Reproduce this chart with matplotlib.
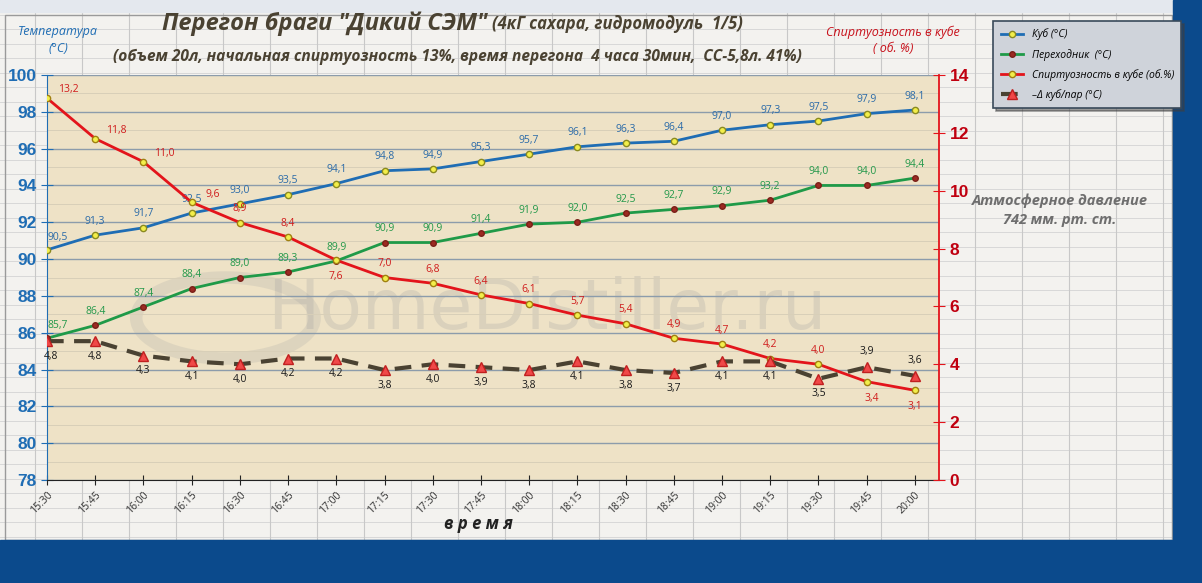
import matplotlib.pyplot as plt
from matplotlib.patches import Rectangle, Circle

# data
times = ["15:30", "15:45", "16:00", "16:15", "16:30", "16:45", "17:00", "17:15", "17:30", "17:45",
         "18:00", "18:15", "18:30", "18:45", "19:00", "19:15", "19:30", "19:45", "20:00"]
kub = [90.5, 91.3, 91.7, 92.5, 93.0, 93.5, 94.1, 94.8, 94.9, 95.3,
       95.7, 96.1, 96.3, 96.4, 97.0, 97.3, 97.5, 97.9, 98.1]
perehodnik = [85.7, 86.4, 87.4, 88.4, 89.0, 89.3, 89.9, 90.9, 90.9, 91.4,
              91.9, 92.0, 92.5, 92.7, 92.9, 93.2, 94.0, 94.0, 94.4]
spirt = [13.2, 11.8, 11.0, 9.6, 8.9, 8.4, 7.6, 7.0, 6.8, 6.4,
         6.1, 5.7, 5.4, 4.9, 4.7, 4.2, 4.0, 3.4, 3.1]
delta = [4.8, 4.8, 4.3, 4.1, 4.0, 4.2, 4.2, 3.8, 4.0, 3.9,
         3.8, 4.1, 3.8, 3.7, 4.1, 4.1, 3.5, 3.9, 3.6]

FONT = ["Open Sans", "DejaVu Sans"]
plt.rcParams["font.family"] = FONT

BLUE = "#1f6db4"
GREEN = "#1f9a48"
RED = "#e3141b"
DARK = "#4a4232"

fig = plt.figure(figsize=(12.02, 5.83), dpi=100)
fig.patch.set_facecolor("#f3f2ef")

# excel-like background
bg = fig.add_axes([0, 0, 1, 1], zorder=-5)
bg.set_xlim(0, 1202)
bg.set_ylim(583, 0)
bg.axis("off")
y = 0
while y < 583:
    bg.axhline(y, color="#d8d8d8", lw=0.7, zorder=1)
    y += 14.5
x = 35
while x < 1202:
    bg.axvline(x, color="#c8c8c8", lw=0.8, zorder=1)
    x += 47
bg.add_patch(Rectangle((5, 15), 1167, 525, fill=False, ec="#9a9a9a", lw=1.0, zorder=3))
bg.add_patch(Rectangle((0, 540), 1202, 43, color="#0b4a8c", zorder=5))
bg.add_patch(Rectangle((1173, 0), 29, 583, color="#0b4a8c", zorder=5))
bg.add_patch(Rectangle((0, 0), 1173, 12, color="#e4e8ee", zorder=4))

ax = fig.add_axes([47 / 1202, 1 - 480 / 583, 892 / 1202, 405 / 583])
ax2 = ax.twinx()
ax.set_facecolor("#eee2c6")

xs = list(range(len(times)))

# watermark
ax.text(0.56, 0.42, "HomeDistiller.ru", transform=ax.transAxes, fontsize=50, color="#8a9098",
        alpha=0.2, ha="center", va="center", family=["DejaVu Sans"], zorder=0)
ax.add_patch(Circle((0.2, 0.4), 0.1, transform=ax.transAxes, fill=False, ec="#8a9098",
                    lw=9, alpha=0.16, zorder=0))

ax.plot(xs, kub, color=BLUE, lw=2, marker="o", ms=4.5, mfc="#f2ee4a", mec="#8a8a20", zorder=4,
        label="Куб (°C)")
ax.plot(xs, perehodnik, color=GREEN, lw=2, marker="o", ms=4, mfc="#9c2a22", mec="#7a2018", zorder=4,
        label="Переходник  (°C)")

ax2.plot(xs, spirt, color=RED, lw=2, marker="o", ms=4.5, mfc="#f2ee4a", mec="#a08010", zorder=4,
         label="Спиртуозность в кубе (об.%)")
ax2.plot(xs, delta, color=DARK, lw=3, ls=(0, (4, 2.5)), marker="^", ms=7, mfc="#f04848",
         mec="#c02020", zorder=4, label="–Δ куб/пар (°C)")

# data labels
for i in xs:
    off = (8, 5) if i == 0 else (0, 6)
    lbl = f"{kub[i]:.1f}".replace(".", ",")
    ax.annotate(lbl, (i, kub[i]), xytext=off, textcoords="offset points", ha="center",
                va="bottom", fontsize=7.5, color="#2a6aa8")
    lbl = f"{perehodnik[i]:.1f}".replace(".", ",")
    ax.annotate(lbl, (i, perehodnik[i]), xytext=off, textcoords="offset points", ha="center",
                va="bottom", fontsize=7.5, color="#23984a")
    lbl = f"{spirt[i]:.1f}".replace(".", ",")
    if i < 4:
        off, va = (15, 2), "bottom"
    elif i in (6, 17, 18):
        off, va = (4 if i == 17 else 0, -8), "top"
    else:
        off, va = (0, 6), "bottom"
    ax2.annotate(lbl, (i, spirt[i]), xytext=off, textcoords="offset points", ha="center",
                 va=va, fontsize=7.5, color="#d01c1c")
    lbl = f"{delta[i]:.1f}".replace(".", ",")
    if i >= 17:
        off, va = (0, 7), "bottom"
    else:
        off, va = (3 if i == 0 else 0, -7), "top"
    ax2.annotate(lbl, (i, delta[i]), xytext=off, textcoords="offset points", ha="center",
                 va=va, fontsize=7.5, color="#1a1a1a")

ax.set_xlim(0, 18.5)
ax.set_ylim(78, 100)
ax2.set_ylim(0, 14)
ax.set_yticks(range(78, 101, 2))
ax2.set_yticks(range(0, 15, 2))
ax.set_yticks([78 + k for k in range(1, 22, 2)], minor=True)
ax.grid(axis="y", which="major", color="#8c9cab", lw=1)
ax.grid(axis="y", which="minor", color="#d8cfb8", lw=0.7)
ax.tick_params(axis="y", which="minor", length=0)
ax.set_axisbelow(True)

ax.set_xticks(xs)
ax.set_xticklabels(times, rotation=45, ha="right", rotation_mode="anchor", fontsize=7.5, color="#333333")
ax.tick_params(axis="x", direction="inout", length=7, color="#222222")
ax.tick_params(axis="y", direction="inout", length=8, color=BLUE, labelsize=12.5, labelcolor=BLUE)
ax2.tick_params(axis="y", direction="inout", length=8, color=RED, labelsize=12.5, labelcolor="#c00010")
for t in ax.get_yticklabels() + ax2.get_yticklabels():
    t.set_fontweight("bold")
    t.set_family(["Liberation Sans", "DejaVu Sans"])

ax.spines["top"].set_visible(False)
ax2.spines["top"].set_visible(False)
ax.spines["right"].set_visible(False)
ax.spines["left"].set_color(BLUE)
ax2.spines["left"].set_visible(False)
ax2.spines["bottom"].set_visible(False)
ax2.spines["right"].set_color(RED)
ax2.spines["right"].set_linewidth(1.3)
ax.spines["bottom"].set_color("#222222")

# titles
fig.text(162 / 1202, 1 - 24 / 583, 'Перегон браги "Дикий СЭМ"', fontsize=17, fontweight="bold",
         style="italic", color=DARK, va="center")
fig.text(492 / 1202, 1 - 24 / 583, "(4кГ сахара, гидромодуль  1/5)", fontsize=12,
         fontweight="bold", style="italic", color=DARK, va="center")
fig.text(113 / 1202, 1 - 57 / 583,
         "(объем 20л, начальная спиртуозность 13%, время перегона  4 часа 30мин,  СС-5,8л. 41%)",
         fontsize=11.2, fontweight="bold", style="italic", color=DARK, va="center")
fig.text(58 / 1202, 1 - 40 / 583, "Температура\n(°C)", fontsize=9, style="italic", color=BLUE,
         ha="center", va="center", linespacing=1.3)
fig.text(893 / 1202, 1 - 40 / 583, "Спиртуозность в кубе\n( об. %)", fontsize=9, style="italic",
         color="#c8101a", ha="center", va="center", linespacing=1.3)
fig.text(478 / 1202, 1 - 524 / 583, "в р е м я", fontsize=12, fontweight="bold", style="italic",
         color="#222222", ha="center", va="center")
fig.text(1060 / 1202, 1 - 210 / 583, "Атмосферное давление\n742 мм. рт. ст.", fontsize=10.5,
         fontweight="bold", style="italic", color="#6e6e6e", ha="center", va="center", linespacing=1.5)

# legend
h1, l1 = ax.get_legend_handles_labels()
h2, l2 = ax2.get_legend_handles_labels()
leg = fig.legend(h1 + h2, l1 + l2, loc="upper left", bbox_to_anchor=(988 / 1202, 1 - 16 / 583),
                 frameon=True, fancybox=False, shadow=True, handlelength=2.2, borderpad=0.7,
                 labelspacing=0.8, prop={"style": "italic", "size": 7.5, "family": FONT})
leg.get_frame().set_facecolor("#cfd3da")
leg.get_frame().set_edgecolor("#3a4a5a")
leg.get_frame().set_linewidth(1.2)
leg.get_frame().set_alpha(1)

fig.savefig("out.png", dpi=100)
